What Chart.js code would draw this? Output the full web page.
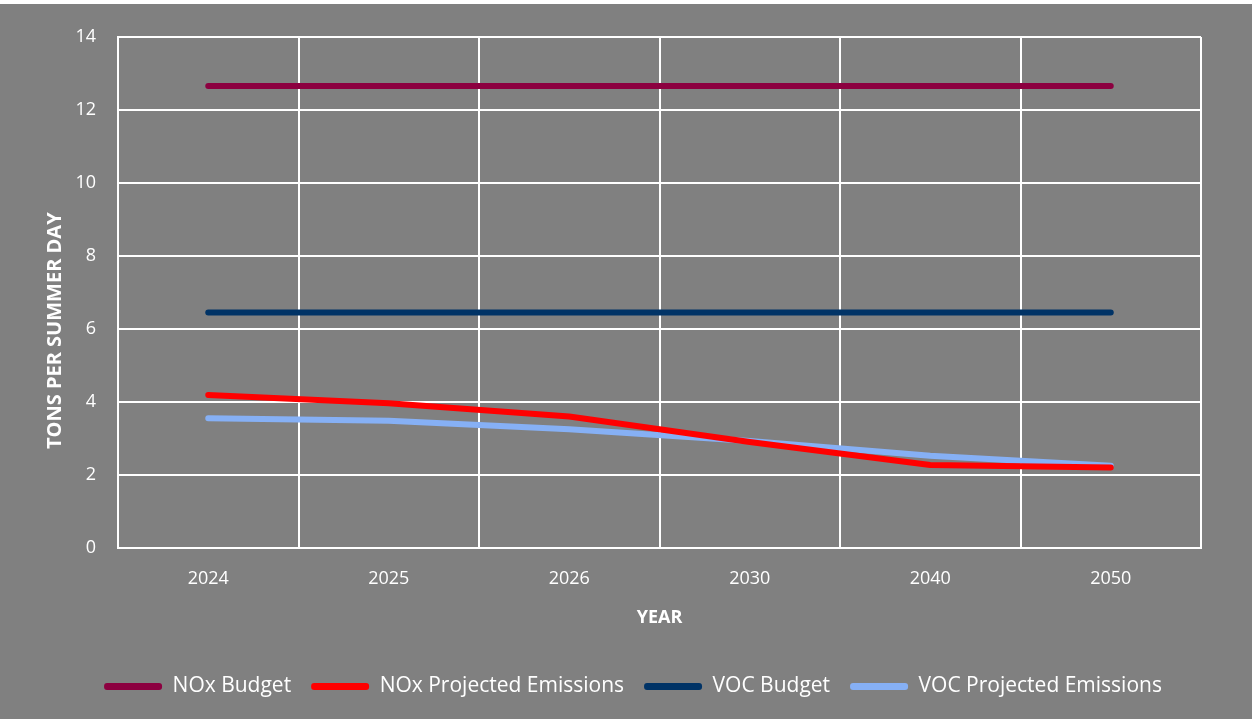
<!DOCTYPE html>
<html>
<head>
<meta charset="utf-8">
<script src="https://cdn.jsdelivr.net/npm/chart.js@4/dist/chart.umd.min.js"></script>
<style>
  html, body { margin: 0; padding: 0; background: #ffffff; }
  #wrap { position: absolute; left: 0; top: 4px; width: 1252px; height: 715px; background: #808080; }
  canvas { display: block; }
</style>
</head>
<body>
<div id="wrap"><canvas id="c" width="1252" height="715"></canvas></div>
<script>
const years = ['2024', '2025', '2026', '2030', '2040', '2050'];
const noxBudget = [12.66, 12.66, 12.66, 12.66, 12.66, 12.66];
const noxProjected = [4.19, 3.96, 3.60, 2.90, 2.27, 2.20];
const vocBudget = [6.45, 6.45, 6.45, 6.45, 6.45, 6.45];
const vocProjected = [3.55, 3.48, 3.25, 2.93, 2.52, 2.25];
const yTicks = [0, 2, 4, 6, 8, 10, 12, 14];
const yTitle = 'TONS PER SUMMER DAY';
const xTitle = 'YEAR';

const FONT = "'Open Sans', 'Liberation Sans', sans-serif";

function ds(label, data, color) {
  return {
    label, data,
    borderColor: color, backgroundColor: color,
    borderWidth: 6, pointRadius: 0, tension: 0,
    borderCapStyle: 'round', borderJoinStyle: 'round', fill: false
  };
}

const yTitlePlugin = {
  id: 'yTitle',
  afterDraw(chart) {
    const { ctx, chartArea } = chart;
    const cy = chartArea.top + (chartArea.bottom - chartArea.top) * 0.575;
    ctx.save();
    ctx.translate(55, cy);
    ctx.rotate(-Math.PI / 2);
    ctx.fillStyle = '#ffffff';
    ctx.font = "bold 20px " + FONT;
    ctx.textAlign = 'center';
    ctx.textBaseline = 'middle';
    ctx.fillText(yTitle, 0, 0);
    ctx.restore();
  }
};

new Chart(document.getElementById('c'), {
  type: 'line',
  data: {
    labels: years,
    datasets: [
      ds('NOx Budget', noxBudget, '#8C0040'),
      ds('NOx Projected Emissions', noxProjected, '#FF0000'),
      ds('VOC Budget', vocBudget, '#003366'),
      ds('VOC Projected Emissions', vocProjected, '#86B0F5')
    ]
  },
  plugins: [yTitlePlugin],
  options: {
    responsive: false,
    animation: false,
    layout: { padding: { left: 14, right: 0, top: 33, bottom: 12 } },
    plugins: {
      tooltip: { enabled: false },
      title: { display: false },
      legend: {
        position: 'bottom',
        labels: {
          color: '#ffffff',
          font: { family: FONT, size: 21 },
          boxWidth: 58, boxHeight: 7,
          useBorderRadius: true, borderRadius: 3,
          padding: 20,
          generateLabels(chart) {
            return chart.data.datasets.map((d, i) => ({
              text: d.label, fillStyle: d.borderColor, strokeStyle: d.borderColor,
              lineWidth: 0, fontColor: '#ffffff', hidden: false, datasetIndex: i,
              borderRadius: 3
            }));
          }
        }
      }
    },
    scales: {
      x: {
        offset: true,
        grid: { offset: true, color: '#ffffff', lineWidth: 2, drawTicks: false },
        border: { color: '#ffffff', width: 2 },
        ticks: { color: '#ffffff', font: { family: FONT, size: 18 }, padding: 20 },
        title: { display: true, text: xTitle, color: '#ffffff', font: { family: FONT, size: 18, weight: 'bold' }, padding: { top: -2, bottom: 27 } }
      },
      y: {
        min: 0, max: 14,
        afterBuildTicks(axis) { axis.ticks = yTicks.map(v => ({ value: v })); },
        afterFit(axis) { axis.width = 104; },
        grid: { color: '#ffffff', lineWidth: 2, drawTicks: false },
        border: { color: '#ffffff', width: 2 },
        ticks: { color: '#ffffff', font: { family: FONT, size: 18 }, padding: 22 },
        title: { display: false }
      },
      yRight: {
        position: 'right',
        min: 0, max: 14,
        afterFit(axis) { axis.width = 51; },
        grid: { display: false, drawOnChartArea: false },
        border: { display: false },
        ticks: { display: false }
      }
    }
  }
});
</script>
</body>
</html>
